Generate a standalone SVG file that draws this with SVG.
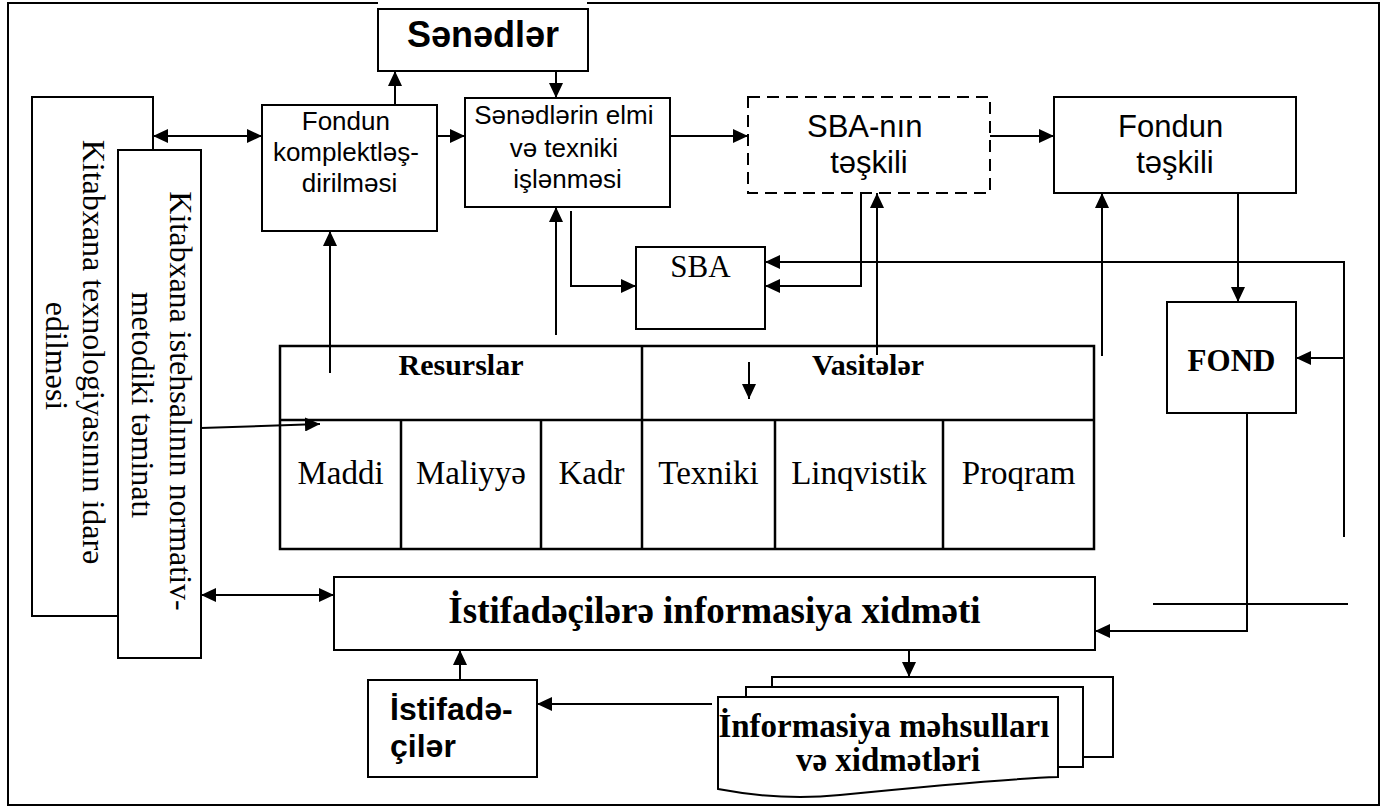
<svg xmlns="http://www.w3.org/2000/svg" width="1385" height="808" viewBox="0 0 1385 808">
  <style>
    .box { fill: #fff; stroke: #000; stroke-width: 2; }
    .dash { fill: #fff; stroke: #000; stroke-width: 2; stroke-dasharray: 12 7; }
    .ln { fill: none; stroke: #000; stroke-width: 2; }
    .tbl { fill: none; stroke: #000; stroke-width: 2.5; }
    .arr { marker-end: url(#ah); }
    .arr2 { marker-start: url(#ah); marker-end: url(#ah); }
    .sans { font-family: "Liberation Sans", Arial, sans-serif; fill: #000; }
    .serif { font-family: "Liberation Serif", "Times New Roman", serif; fill: #000; }
    .b { font-weight: bold; }
    .mid { text-anchor: middle; }
  </style>
  <defs>
    <marker id="ah" markerWidth="15" markerHeight="14" refX="15" refY="7" orient="auto-start-reverse" markerUnits="userSpaceOnUse">
      <path d="M0,0 L15,7 L0,14 z" fill="#000"/>
    </marker>
  </defs>

  <rect width="1385" height="808" fill="#fff"/>

  <!-- outer frame, open at the top where the Sənədlər box sits -->
  <path class="ln" d="M378,3 H8 V805 H1379 V3 H587"/>

  <!-- connectors -->
  <g id="connectors">
    <path class="ln arr2" d="M153,136 H262"/>
    <path class="ln arr" d="M395,105 V71"/>
    <path class="ln arr" d="M437,136 H465"/>
    <path class="ln arr" d="M556,71 V98"/>
    <path class="ln arr" d="M670,136 H748"/>
    <path class="ln arr" d="M990,136 H1054"/>
    <path class="ln arr" d="M571,211 V286 H636"/>
    <path class="ln arr" d="M861,193 V286 H765"/>
    <path class="ln arr" d="M1344,537 V262 H765"/>
    <path class="ln arr" d="M1344,358 H1296"/>
    <path class="ln arr" d="M1238,193 V302"/>
    <path class="ln arr" d="M1247,413 V631 H1095"/>
    <path class="ln" d="M1153,604 H1348"/>
    <path class="ln arr" d="M330,373 V231"/>
    <path class="ln arr" d="M556,335 V207"/>
    <path class="ln arr" d="M877,355 V193"/>
    <path class="ln arr" d="M1102,356 V193"/>
    <path class="ln arr" d="M749,362 V399"/>
    <path class="ln arr" d="M201,428 L320,424"/>
    <path class="ln arr2" d="M201,595 H334"/>
    <path class="ln arr" d="M909,650 V677"/>
    <path class="ln arr" d="M712,704 H537"/>
    <path class="ln arr" d="M460,680 V650"/>
  </g>

  <g id="senedler">
    <rect class="box" x="378" y="9" width="210" height="62"/>
    <text class="sans b mid" x="483" y="47" font-size="36">Sənədlər</text>
  </g>

  <g id="idare">
    <rect class="box" x="32" y="97" width="121" height="519"/>
    <text class="serif mid" font-size="32" transform="translate(83,356) rotate(90)">
      <tspan x="0" y="0">Kitabxana texnologiyasının idarə</tspan>
      <tspan x="0" dy="37">edilməsi</tspan>
    </text>
  </g>

  <g id="teminat">
    <rect class="box" x="118" y="150" width="83" height="508"/>
    <text class="serif mid" font-size="32" transform="translate(170,405) rotate(90)">
      <tspan x="0" y="0">Kitabxana istehsalının normativ-</tspan>
      <tspan x="0" dy="38">metodiki təminatı</tspan>
    </text>
  </g>

  <g id="komplekt">
    <rect class="box" x="262" y="105" width="175" height="126"/>
    <text class="sans mid" font-size="26">
      <tspan x="349.5" y="130">Fondun</tspan>
      <tspan x="349.5" y="161">komplektləş-</tspan>
      <tspan x="349.5" y="192">dirilməsi</tspan>
    </text>
  </g>

  <g id="islenme">
    <rect class="box" x="465" y="98" width="205" height="109"/>
    <text class="sans mid" font-size="26">
      <tspan x="567.5" y="124">Sənədlərin elmi</tspan>
      <tspan x="567.5" y="157">və texniki</tspan>
      <tspan x="567.5" y="188">işlənməsi</tspan>
    </text>
  </g>

  <g id="sba-teskili">
    <rect class="dash" x="748" y="97" width="242" height="96"/>
    <text class="sans mid" font-size="31">
      <tspan x="869" y="137">SBA-nın</tspan>
      <tspan x="869" y="173">təşkili</tspan>
    </text>
  </g>

  <g id="fond-teskili">
    <rect class="box" x="1054" y="97" width="242" height="96"/>
    <text class="sans mid" font-size="31">
      <tspan x="1175" y="137">Fondun</tspan>
      <tspan x="1175" y="173">təşkili</tspan>
    </text>
  </g>

  <g id="sba">
    <rect class="box" x="636" y="247" width="129" height="82"/>
    <text class="serif mid" x="700.5" y="277" font-size="31">SBA</text>
  </g>

  <g id="fond">
    <rect class="box" x="1167" y="302" width="129" height="111"/>
    <text class="serif b mid" x="1231.5" y="371" font-size="31">FOND</text>
  </g>

  <g id="resources">
    <rect class="tbl" x="280" y="346" width="814" height="203"/>
    <path class="tbl" d="M280,420 H1094 M642,346 V549 M401,420 V549 M541,420 V549 M775,420 V549 M943,420 V549"/>
    <text class="serif b mid" x="461" y="375" font-size="30">Resurslar</text>
    <text class="serif b mid" x="868" y="375" font-size="30">Vasitələr</text>
    <g class="serif mid" font-size="33">
      <text x="340.5" y="484">Maddi</text>
      <text x="471" y="484">Maliyyə</text>
      <text x="591.5" y="484">Kadr</text>
      <text x="708.5" y="484">Texniki</text>
      <text x="859" y="484">Linqvistik</text>
      <text x="1018.5" y="484">Proqram</text>
    </g>
  </g>

  <g id="xidmet">
    <rect class="box" x="334" y="577" width="761" height="73"/>
    <text class="serif b mid" x="714.5" y="623" font-size="37">İstifadəçilərə informasiya xidməti</text>
  </g>

  <g id="istifadeciler">
    <rect class="box" x="368" y="680" width="169" height="97"/>
    <text class="sans b" font-size="32">
      <tspan x="390" y="720">İstifadə-</tspan>
      <tspan x="390" y="757">çilər</tspan>
    </text>
  </g>

  <g id="mehsullar">
    <path class="box" d="M772,757 V677 H1113 V757 Z"/>
    <path class="box" d="M746,767 V687 H1083 V767 Z"/>
    <path class="box" d="M718,789 V697 H1058 V777 C1000,779 920,787 840,795 C800,799 760,797 718,789 Z"/>
    <text class="serif b mid" font-size="33">
      <tspan x="888" y="737">İnformasiya məhsulları</tspan>
      <tspan x="888" y="771">və xidmətləri</tspan>
    </text>
  </g>
</svg>
